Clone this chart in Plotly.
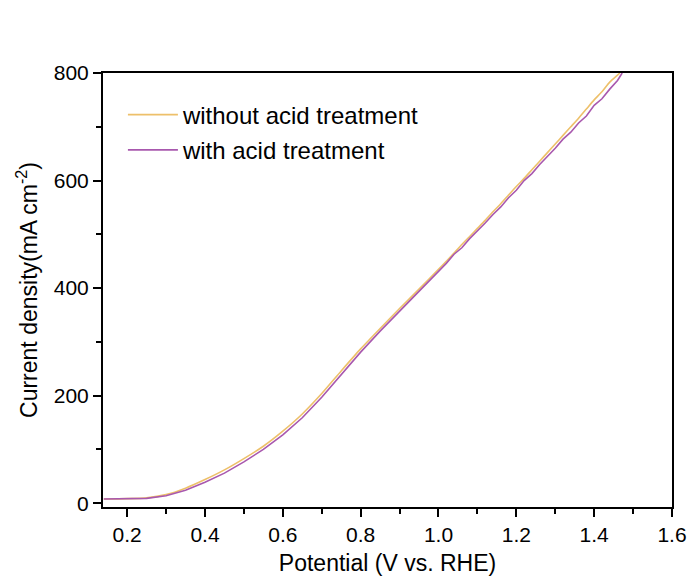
import plotly.graph_objects as go

# Potential (V vs. RHE)
x_without = [0.14, 0.20, 0.25, 0.30, 0.35, 0.40, 0.45, 0.50, 0.55, 0.60, 0.65, 0.70, 0.75, 0.80,
             0.85, 0.90, 0.95, 1.00, 1.02, 1.04, 1.06, 1.08, 1.10, 1.12, 1.14, 1.16, 1.18, 1.20,
             1.22, 1.24, 1.26, 1.28, 1.30, 1.32, 1.34, 1.36, 1.38, 1.40, 1.42, 1.44, 1.46, 1.466]
y_without = [8, 8.5, 10, 16, 28, 44, 62, 83, 106, 134, 166, 204, 246, 287,
             325, 362, 398, 435, 450, 465, 481, 496, 511, 526, 542, 557, 573, 589,
             604, 620, 636, 652, 668, 684, 700, 716, 733, 750, 765, 783, 796, 800]

x_with = [0.14, 0.20, 0.25, 0.30, 0.35, 0.40, 0.45, 0.50, 0.55, 0.60, 0.65, 0.70, 0.75, 0.80,
          0.85, 0.90, 0.95, 1.00, 1.02, 1.04, 1.06, 1.08, 1.10, 1.12, 1.14, 1.16, 1.18, 1.20,
          1.22, 1.24, 1.26, 1.28, 1.30, 1.32, 1.34, 1.36, 1.38, 1.40, 1.42, 1.44, 1.46, 1.472]
y_with = [8, 8, 9, 14, 24, 39, 56, 77, 100, 127, 159, 197, 239, 281,
          320, 357, 394, 431, 446, 463, 475, 492, 506, 521, 537, 551, 568, 582,
          600, 613, 630, 645, 660, 677, 690, 707, 720, 740, 752, 770, 786, 800]

names = ["without acid treatment", "with acid treatment"]
colors = ["#EDC06A", "#A858AE"]

FONT = "Liberation Sans, Arial, sans-serif"

fig = go.Figure()
fig.add_trace(go.Scatter(x=x_without, y=y_without, mode="lines", name=names[0],
                         line=dict(color=colors[0], width=1.6, shape="spline", smoothing=0.6),
                         legendgroup="a"))
fig.add_trace(go.Scatter(x=x_with, y=y_with, mode="lines", name=names[1],
                         line=dict(color=colors[1], width=1.6), legendgroup="b"))

axis_common = dict(showline=True, linecolor="black", linewidth=2, mirror=True,
                   ticks="outside", ticklen=8, tickwidth=1.5, tickcolor="black",
                   showgrid=False, zeroline=False,
                   tickfont=dict(family=FONT, size=21, color="black"))

fig.update_xaxes(range=[0.138, 1.6], tick0=0.2, dtick=0.2, tickformat=".1f",
                 minor=dict(ticks="outside", ticklen=5, dtick=0.1, tick0=0.1, tickcolor="black", tickwidth=1.5),
                 title=dict(text="Potential (V vs. RHE)", font=dict(family=FONT, size=23, color="black"),
                            standoff=10),
                 **axis_common)
fig.update_yaxes(range=[-7, 800], tick0=0, dtick=200,
                 minor=dict(ticks="outside", ticklen=5, dtick=100, tick0=0, tickcolor="black", tickwidth=1.5),
                 title=dict(text="Current density(mA cm<sup>-2</sup>)", font=dict(family=FONT, size=23, color="black"),
                            standoff=10),
                 **axis_common)

fig.update_layout(
    width=691, height=576,
    margin=dict(l=95, r=15, t=65, b=65),
    plot_bgcolor="white", paper_bgcolor="white",
    showlegend=True,
    legend=dict(x=0.035, y=0.955, xanchor="left", yanchor="top",
                font=dict(family=FONT, size=24, color="black"),
                bgcolor="rgba(0,0,0,0)", tracegroupgap=1, itemwidth=50),
)

fig.write_html("out.html")
